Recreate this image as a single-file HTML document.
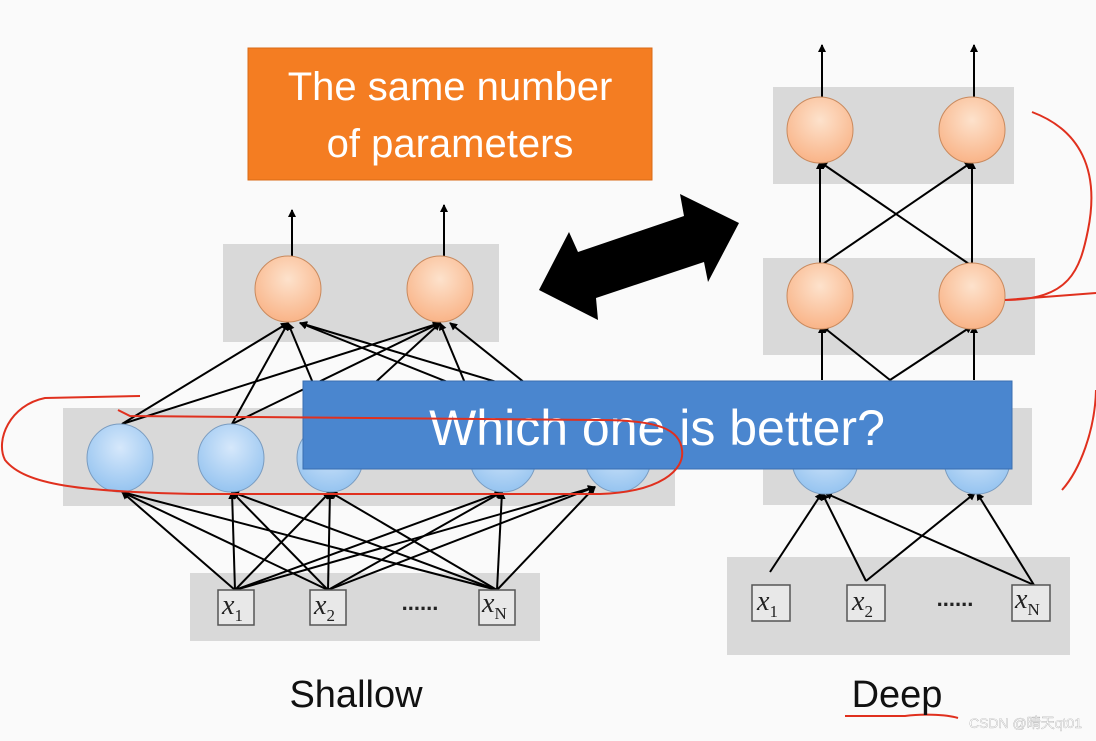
<!DOCTYPE html>
<html><head><meta charset="utf-8"><style>
html,body{margin:0;padding:0;background:#fafafa;}
svg{display:block;}
text{font-family:"Liberation Sans",sans-serif;}
text.m{font-family:"Liberation Serif",serif;font-style:italic;}
</style></head><body>
<svg width="1096" height="741" viewBox="0 0 1096 741" xmlns="http://www.w3.org/2000/svg">
<defs>
<marker id="a" markerWidth="8" markerHeight="8" refX="7" refY="4" orient="auto" markerUnits="userSpaceOnUse"><path d="M0,0 L8,4 L0,8 z" fill="#000"/></marker>
<radialGradient id="og" cx="50%" cy="35%" r="65%"><stop offset="0" stop-color="#fde2cc"/><stop offset="1" stop-color="#f9b488"/></radialGradient>
<radialGradient id="bg" cx="50%" cy="35%" r="65%"><stop offset="0" stop-color="#d6e8fb"/><stop offset="1" stop-color="#96c4f0"/></radialGradient>
</defs>
<rect width="1096" height="741" fill="#fafafa"/>
<rect x="248" y="48" width="404" height="132" fill="#f47d22" stroke="#d96a15"/>
<text x="450" y="100" font-size="40" fill="#fff" text-anchor="middle">The same number</text>
<text x="450" y="157" font-size="40" fill="#fff" text-anchor="middle">of parameters</text>
<rect x="223" y="244" width="276" height="98" fill="#d9d9d9"/>
<rect x="63" y="408" width="612" height="98" fill="#d9d9d9"/>
<rect x="190" y="573" width="350" height="68" fill="#d9d9d9"/>
<rect x="773" y="87" width="241" height="97" fill="#d9d9d9"/>
<rect x="763" y="258" width="272" height="97" fill="#d9d9d9"/>
<rect x="763" y="408" width="269" height="97" fill="#d9d9d9"/>
<rect x="727" y="557" width="343" height="98" fill="#d9d9d9"/>
<g stroke="#000" stroke-width="2" fill="none" marker-end="url(#a)">
<line x1="235" y1="590" x2="122" y2="492"/><line x1="235" y1="590" x2="232" y2="492"/><line x1="235" y1="590" x2="330" y2="492"/><line x1="235" y1="590" x2="502" y2="492"/><line x1="235" y1="590" x2="595" y2="487"/>
<line x1="328" y1="590" x2="122" y2="492"/><line x1="328" y1="590" x2="232" y2="492"/><line x1="328" y1="590" x2="330" y2="492"/><line x1="328" y1="590" x2="502" y2="492"/><line x1="328" y1="590" x2="595" y2="487"/>
<line x1="497" y1="590" x2="122" y2="492"/><line x1="497" y1="590" x2="232" y2="492"/><line x1="497" y1="590" x2="330" y2="492"/><line x1="497" y1="590" x2="502" y2="492"/><line x1="497" y1="590" x2="595" y2="487"/>
<line x1="122" y1="424" x2="288" y2="323"/><line x1="122" y1="424" x2="440" y2="323"/>
<line x1="232" y1="424" x2="288" y2="323"/><line x1="232" y1="424" x2="440" y2="323"/>
<line x1="330" y1="424" x2="288" y2="323"/><line x1="330" y1="424" x2="440" y2="323"/>
<line x1="480" y1="395" x2="300" y2="323"/><line x1="470" y1="395" x2="440" y2="323"/>
<line x1="540" y1="395" x2="300" y2="323"/><line x1="540" y1="395" x2="450" y2="323"/>
<line x1="292" y1="256" x2="292" y2="210"/><line x1="444" y1="256" x2="444" y2="205"/>
<line x1="770" y1="572" x2="822" y2="493"/><line x1="866" y1="581" x2="822" y2="493"/><line x1="866" y1="581" x2="975" y2="493"/><line x1="1034" y1="585" x2="825" y2="493"/><line x1="1034" y1="585" x2="977" y2="493"/>
<line x1="822" y1="380" x2="822" y2="326"/><line x1="890" y1="380" x2="822" y2="326"/><line x1="890" y1="380" x2="972" y2="326"/><line x1="974" y1="380" x2="974" y2="326"/>
<line x1="820" y1="266" x2="820" y2="162"/><line x1="820" y1="266" x2="972" y2="162"/><line x1="972" y1="266" x2="820" y2="162"/><line x1="972" y1="266" x2="972" y2="162"/>
<line x1="822" y1="100" x2="822" y2="45"/><line x1="974" y1="100" x2="974" y2="45"/>
</g>
<g fill="url(#og)" stroke="#c98a5e" stroke-width="1">
<circle cx="288" cy="289" r="33"/><circle cx="440" cy="289" r="33"/>
<circle cx="820" cy="130" r="33"/><circle cx="972" cy="130" r="33"/>
<circle cx="820" cy="296" r="33"/><circle cx="972" cy="296" r="33"/>
</g>
<g fill="url(#bg)" stroke="#7a9cc0" stroke-width="1">
<ellipse cx="120" cy="458" rx="33" ry="34"/><ellipse cx="231" cy="458" rx="33" ry="34"/><ellipse cx="330" cy="458" rx="33" ry="34"/><ellipse cx="503" cy="458" rx="33" ry="34"/><ellipse cx="618" cy="458" rx="33" ry="34"/>
<ellipse cx="825" cy="460" rx="33" ry="34"/><ellipse cx="977" cy="460" rx="33" ry="34"/>
</g>
<g fill="#e8e8e8" stroke="#555" stroke-width="1.5">
<rect x="218" y="590" width="36" height="35"/><rect x="310" y="590" width="36" height="35"/><rect x="479" y="590" width="36" height="35"/>
<rect x="752" y="585" width="38" height="36"/><rect x="847" y="585" width="38" height="36"/><rect x="1012" y="585" width="38" height="36"/>
</g>
<g font-size="28" fill="#222">
<text class="m" x="222" y="614">x<tspan font-style="normal" font-size="17" dy="7">1</tspan></text>
<text class="m" x="314" y="614">x<tspan font-style="normal" font-size="17" dy="7">2</tspan></text>
<text class="m" x="482" y="612">x<tspan font-style="normal" font-size="17" dy="7">N</tspan></text>
<text class="m" x="757" y="610">x<tspan font-style="normal" font-size="17" dy="7">1</tspan></text>
<text class="m" x="852" y="610">x<tspan font-style="normal" font-size="17" dy="7">2</tspan></text>
<text class="m" x="1015" y="608">x<tspan font-style="normal" font-size="17" dy="7">N</tspan></text>
</g>
<text x="420" y="610" font-size="22" fill="#222" text-anchor="middle" font-weight="bold">......</text>
<text x="955" y="606" font-size="22" fill="#222" text-anchor="middle" font-weight="bold">......</text>
<polygon points="539,290 569,232 578,252 684,216 680,194 739,223 708,282 704,262 596,298 598,320" fill="#000"/>
<rect x="303" y="381" width="709" height="88" fill="#4a86cf" stroke="#3a6fb0"/>
<text x="657" y="445" font-size="50" fill="#fff" text-anchor="middle">Which one is better?</text>
<g stroke="#e0301e" stroke-width="2" fill="none">
<path d="M140,396 L45,398 C10,405 -5,440 5,460 C25,485 80,492 200,494 L600,494 C660,492 685,470 682,450 C680,430 660,420 600,420 L130,416 L118,410"/>
<path d="M1032,112 C1080,130 1100,170 1088,230 C1080,270 1070,300 1005,300 L1096,293"/>
<path d="M1096,390 C1095,430 1080,470 1062,490"/>
<path d="M845,716 L905,716 C920,714 945,714 958,718"/>
</g>
<text x="356" y="707" font-size="38" fill="#111" text-anchor="middle">Shallow</text>
<text x="897" y="707" font-size="38" fill="#111" text-anchor="middle">Deep</text>
<text x="1082" y="728" font-size="14" fill="#fff" text-anchor="end" stroke="#999" stroke-width="0.3" style="font-family:'Liberation Sans','Noto Sans CJK SC',sans-serif">CSDN @晴天qt01</text>
</svg>
</body></html>
